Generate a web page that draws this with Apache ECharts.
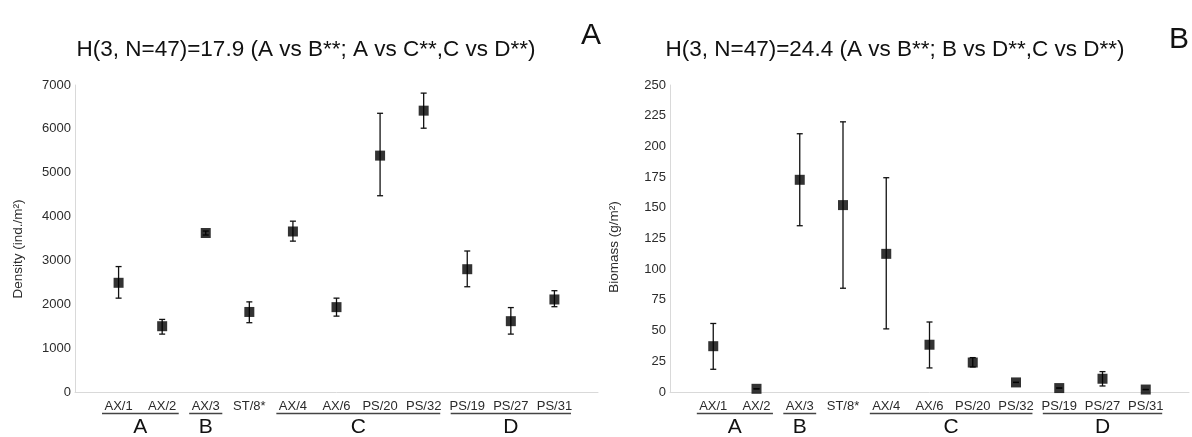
<!DOCTYPE html>
<html>
<head>
<meta charset="utf-8">
<script src="https://cdn.jsdelivr.net/npm/echarts@6/dist/echarts.min.js"></script>
<style>
  html, body { margin: 0; padding: 0; background: #fff; }
  #chart { width: 1192px; height: 437px; }
</style>
</head>
<body>
<div id="chart"></div>
<script>
// Sampling sites along the x axis
const sites = ['AX/1', 'AX/2', 'AX/3', 'ST/8*', 'AX/4', 'AX/6', 'PS/20', 'PS/32', 'PS/19', 'PS/27', 'PS/31'];

// Site groups: [first site index, last site index, label]
const groups = [[0, 1, 'A'], [2, 2, 'B'], [4, 7, 'C'], [8, 10, 'D']];

// Panel A: density (ind./m²) — mean, lower and upper error
const densityMean  = [2490, 1500, 3625, 1825, 3660, 1935, 5390, 6415, 2800, 1615, 2110];
const densityLow   = [2140, 1320, 3580, 1580, 3440, 1730, 4475, 6015, 2400, 1320, 1945];
const densityHigh  = [2860, 1655, 3670, 2055, 3895, 2140, 6355, 6815, 3215, 1925, 2310];

// Panel B: biomass (g/m²) — mean, lower and upper error
const biomassMean  = [37.3, 2.6, 172.8, 152.2, 112.5, 38.5, 24, 7.8, 3.2, 10.8, 2.0];
const biomassLow   = [18.5, 2.6, 135.4, 84.5, 51.4, 19.6, 20.4, 7.8, 3.2, 4.9, 2.0];
const biomassHigh  = [55.8, 2.6, 210.3, 220, 174.5, 57, 28, 7.8, 3.2, 16.6, 2.0];

// Axis ticks
const densityTicks = { min: 0, max: 7000, interval: 1000 };
const biomassTicks = { min: 0, max: 250, interval: 25 };

const titles = [
  'H(3, N=47)=17.9 (A vs B**; A vs C**,C vs D**)',
  'H(3, N=47)=24.4 (A vs B**; B vs D**,C vs D**)'
];
const panelLetters = ['A', 'B'];
const axisNames = ['Density (ind./m²)', 'Biomass (g/m²)'];

const FONT = 'Liberation Sans, Arial, sans-serif';
const AXIS_GREY = '#d9d9d9';
const TEXT = '#2b2b2b';

const chart = echarts.init(document.getElementById('chart'), null, { renderer: 'canvas' });

function xAxisFor(gi) {
  return {
    type: 'value', gridIndex: gi, min: 0, max: sites.length + 1, interval: 1,
    axisLine: { show: true, lineStyle: { color: AXIS_GREY, width: 1 } },
    axisTick: { show: false },
    splitLine: { show: false },
    axisLabel: {
      color: TEXT, fontFamily: FONT, fontSize: 13, margin: 8,
      formatter: v => (v >= 1 && v <= sites.length) ? sites[v - 1] : ''
    }
  };
}

function yAxisFor(gi, ticks) {
  return {
    type: 'value', gridIndex: gi, min: ticks.min, max: ticks.max, interval: ticks.interval,
    axisLine: { show: true, lineStyle: { color: AXIS_GREY, width: 1 } },
    axisTick: { show: false },
    splitLine: { show: false },
    axisLabel: { color: TEXT, fontFamily: FONT, fontSize: 13, margin: 4, formatter: v => String(v) }
  };
}

function errorSeries(gi, low, high) {
  return {
    type: 'custom', xAxisIndex: gi, yAxisIndex: gi, z: 2,
    data: sites.map((s, i) => [i + 1, low[i], high[i]]),
    renderItem: (params, api) => {
      const lo = api.coord([api.value(0), api.value(1)]);
      const hi = api.coord([api.value(0), api.value(2)]);
      const cap = 3;
      const style = { stroke: '#111', lineWidth: 1.3 };
      return {
        type: 'group',
        children: [
          { type: 'line', shape: { x1: lo[0], y1: lo[1], x2: hi[0], y2: hi[1] }, style },
          { type: 'line', shape: { x1: hi[0] - cap, y1: hi[1], x2: hi[0] + cap, y2: hi[1] }, style },
          { type: 'line', shape: { x1: lo[0] - cap, y1: lo[1], x2: lo[0] + cap, y2: lo[1] }, style }
        ]
      };
    }
  };
}

function meanSeries(gi, mean) {
  return {
    type: 'scatter', xAxisIndex: gi, yAxisIndex: gi, z: 3,
    symbol: 'rect', symbolSize: 10,
    itemStyle: { color: '#000' },
    data: sites.map((s, i) => [i + 1, mean[i]])
  };
}

// Group underlines and letters beneath the site labels
function groupSeries(gi) {
  return {
    type: 'custom', xAxisIndex: gi, yAxisIndex: gi, clip: false, silent: true,
    data: groups.map(g => [g[0] + 1, g[1] + 1, g[2]]),
    renderItem: (params, api) => {
      const a = api.coord([api.value(0) - 0.38, 0]);
      const b = api.coord([api.value(1) + 0.38, 0]);
      const y = a[1] + 21.5;
      return {
        type: 'group',
        children: [
          { type: 'line', shape: { x1: a[0], y1: y, x2: b[0], y2: y },
            style: { stroke: '#444', lineWidth: 1.3 } },
          { type: 'text', x: (a[0] + b[0]) / 2, y: y + 13.5,
            style: { text: api.value(2), fill: '#111', font: '21px ' + FONT,
                     align: 'center', verticalAlign: 'middle' } }
        ]
      };
    }
  };
}

// Rotated y-axis names
function axisNameGraphic(text, x, y) {
  return {
    type: 'text', x: x, y: y, rotation: Math.PI / 2,
    style: { text: text, fill: TEXT, font: '13.5px ' + FONT, align: 'center', verticalAlign: 'middle' }
  };
}

const option = {
  animation: false,
  backgroundColor: '#fff',
  title: [
    { text: titles[0], left: 301, top: 33, textAlign: 'center',
      textStyle: { color: '#111', fontFamily: FONT, fontSize: 22.5, fontWeight: 'normal' } },
    { text: titles[1], left: 890, top: 33, textAlign: 'center',
      textStyle: { color: '#111', fontFamily: FONT, fontSize: 22.5, fontWeight: 'normal' } },
    { text: panelLetters[0], left: 586, top: 16, textAlign: 'center',
      textStyle: { color: '#111', fontFamily: FONT, fontSize: 30, fontWeight: 'normal' } },
    { text: panelLetters[1], left: 1174, top: 20, textAlign: 'center',
      textStyle: { color: '#111', fontFamily: FONT, fontSize: 30, fontWeight: 'normal' } }
  ],
  graphic: [
    axisNameGraphic(axisNames[0], 18, 249),
    axisNameGraphic(axisNames[1], 614, 247)
  ],
  grid: [
    { left: 75, top: 85, width: 523, height: 307 },
    { left: 670, top: 85, width: 522, height: 307 }
  ],
  xAxis: [xAxisFor(0), xAxisFor(1)],
  yAxis: [yAxisFor(0, densityTicks), yAxisFor(1, biomassTicks)],
  series: [
    errorSeries(0, densityLow, densityHigh),
    meanSeries(0, densityMean),
    groupSeries(0),
    errorSeries(1, biomassLow, biomassHigh),
    meanSeries(1, biomassMean),
    groupSeries(1)
  ]
};

chart.setOption(option);
</script>
</body>
</html>
